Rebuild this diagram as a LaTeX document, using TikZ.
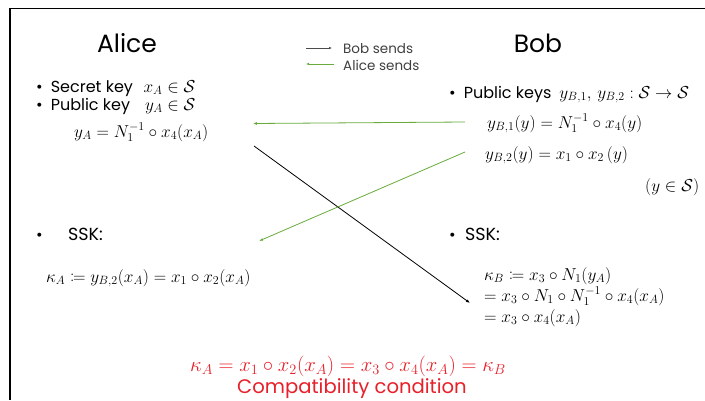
\documentclass[tikz,border=0pt]{standalone}
\usepackage{mathtools}
\usepackage{fontspec}
\setmainfont{Poppins}
\usetikzlibrary{arrows.meta}
\definecolor{sendgreen}{RGB}{104,172,62}
\definecolor{compred}{RGB}{232,32,42}
\newcommand{\keymath}[1]{{\fontsize{17.5}{20}\selectfont$#1$}}
\newcommand{\keymathw}[1]{{\fontsize{18.5}{20}\selectfont$#1$}}
\tikzset{
  txt/.style={inner sep=0pt, anchor=base west},
  person/.style={inner sep=0pt, anchor=base, font=\fontsize{25}{30}\selectfont},
  body/.style={txt, font=\fontsize{16}{20}\selectfont},
  mth/.style={txt, font=\fontsize{16.8}{20}\selectfont},
  mthw/.style={txt, font=\fontsize{17.8}{20}\selectfont},
  leg/.style={txt, font=\fontsize{13.5}{15}\selectfont, text=black!75},
  greenarrow/.style={draw=sendgreen, line width=0.8pt, -{Latex[length=4pt,width=3pt]}},
  blackarrow/.style={draw=black, line width=0.8pt, -{Latex[length=4pt,width=3pt]}},
  frameline/.style={draw=black, line width=1.3pt},
  comptext/.style={text=compred}
}
\begin{document}
\begin{tikzpicture}[x=1pt,y=-1pt]
\useasboundingbox (0,0) rectangle (705,400);
\fill[white] (0,0) rectangle (705,400);
% frame
\coordinate (fTL) at (10,8.5);
\coordinate (fTR) at (705,8.5);
\coordinate (fBL) at (10,400);
\draw[frameline] (fTR) -- (fTL) -- (fBL);

% names
\node[person] (alice) at (127,52) {Alice};
\node[person] (bob) at (538,52) {Bob};

% legend
\coordinate (l1a) at (306,48); \coordinate (l1b) at (332,48);
\coordinate (l2a) at (334,64); \coordinate (l2b) at (306,64);
\draw[draw=black!70, line width=0.7pt, -{Latex[length=3pt,width=2.5pt]}] (l1a) -- (l1b);
\draw[draw=sendgreen, line width=0.7pt, -{Latex[length=3pt,width=2.5pt]}] (l2a) -- (l2b);
\node[leg] (lbob) at (343,53) {Bob sends};
\node[leg] (lalice) at (343,70) {Alice sends};

% Alice keys
\node[body] (a1) at (36,92) {\textbullet\enspace Secret key\enspace\,\keymath{x_A\in\mathcal{S}}};
\node[body] (a2) at (36,110) {\textbullet\enspace Public key\enspace\ \,\keymath{y_A\in\mathcal{S}}};
\node[mth] (ya) at (74,137) {$y_A=N_1^{-1}\circ x_4(x_A)$};

% Bob keys
\node[body] (b1) at (449,98) {\textbullet\enspace Public keys\enspace\keymathw{y_{B,1},\,y_{B,2}:\mathcal{S}\to\mathcal{S}}};
\node[mthw] (yb1) at (487,128) {$y_{B,1}(y)=N_1^{-1}\circ x_4(y)$};
\node[mthw] (yb2) at (485,159) {$y_{B,2}(y)=x_1\circ x_2\,(y)$};
\node[mth] (ydom) at (645,191) {$(y\in\mathcal{S})$};

% SSK
\node[body] (abul) at (36,240) {\textbullet};
\node[body, font=\fontsize{17.5}{20}\selectfont] (assk) at (68,240) {SSK:};
\node[body] (bbul) at (449,240) {\textbullet};
\node[body, font=\fontsize{17.5}{20}\selectfont] (bssk) at (465,240) {SSK:};
\node[mth] (ka) at (46,282) {$\kappa_A\coloneqq y_{B,2}(x_A)=x_1\circ x_2(x_A)$};
\node[mth] (kb1) at (484,280) {$\kappa_B\coloneqq x_3\circ N_1(y_A)$};
\node[mth] (kb2) at (484,301) {$=x_3\circ N_1\circ N_1^{-1}\circ x_4(x_A)$};
\node[mth] (kb3) at (484,322) {$=x_3\circ x_4(x_A)$};

% arrows
\coordinate (g1s) at (465,122); \coordinate (g1e) at (253,123.5);
\coordinate (bks) at (254,146); \coordinate (bke) at (470,303);
\coordinate (g2s) at (465,152); \coordinate (g2e) at (259,241);
\draw[greenarrow] (g1s) -- (g1e);
\draw[blackarrow] (bks) -- (bke);
\draw[greenarrow] (g2s) -- (g2e);

% compatibility
\node[txt, comptext, anchor=base, font=\fontsize{19.5}{22}\selectfont] (comp) at (348,371) {$\kappa_A=x_1\circ x_2(x_A)=x_3\circ x_4(x_A)=\kappa_B$};
\node[txt, comptext, anchor=base, font=\fontsize{19.6}{22}\selectfont] (compt) at (352,393) {Compatibility condition};
\end{tikzpicture}
\end{document}
